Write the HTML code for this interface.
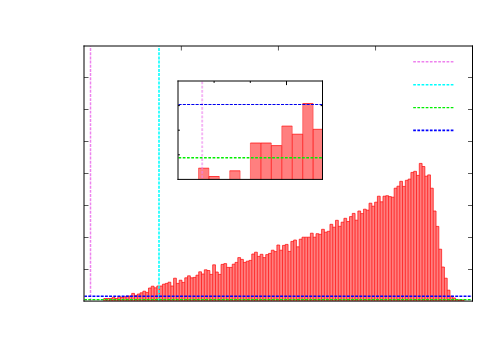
<!DOCTYPE html>
<html><head><meta charset="utf-8"><title>plot</title>
<style>
html,body{margin:0;padding:0;background:#fff;font-family:"Liberation Sans",sans-serif;}
svg{display:block}
</style></head><body>
<svg width="500" height="350" viewBox="0 0 500 350">
<rect x="0" y="0" width="500" height="350" fill="#ffffff"/>
<!-- main bars -->
<g fill="rgba(255,0,0,0.5)" stroke="none">
<rect x="103.79" y="298.50" width="2.792" height="2.50"/>
<rect x="106.59" y="298.50" width="2.792" height="2.50"/>
<rect x="109.38" y="298.50" width="2.792" height="2.50"/>
<rect x="112.17" y="297.30" width="2.792" height="3.70"/>
<rect x="114.96" y="298.50" width="2.792" height="2.50"/>
<rect x="117.75" y="296.60" width="2.792" height="4.40"/>
<rect x="120.55" y="297.40" width="2.792" height="3.60"/>
<rect x="123.34" y="296.80" width="2.792" height="4.20"/>
<rect x="126.13" y="296.00" width="2.792" height="5.00"/>
<rect x="128.92" y="296.00" width="2.792" height="5.00"/>
<rect x="131.71" y="293.40" width="2.792" height="7.60"/>
<rect x="134.51" y="295.40" width="2.792" height="5.60"/>
<rect x="137.30" y="294.00" width="2.792" height="7.00"/>
<rect x="140.09" y="292.80" width="2.792" height="8.20"/>
<rect x="142.88" y="291.20" width="2.792" height="9.80"/>
<rect x="145.67" y="292.40" width="2.792" height="8.60"/>
<rect x="148.47" y="288.00" width="2.792" height="13.00"/>
<rect x="151.26" y="286.20" width="2.792" height="14.80"/>
<rect x="154.05" y="287.80" width="2.792" height="13.20"/>
<rect x="156.84" y="286.00" width="2.792" height="15.00"/>
<rect x="159.63" y="286.00" width="2.792" height="15.00"/>
<rect x="162.43" y="284.20" width="2.792" height="16.80"/>
<rect x="165.22" y="283.40" width="2.792" height="17.60"/>
<rect x="168.01" y="282.20" width="2.792" height="18.80"/>
<rect x="170.80" y="286.00" width="2.792" height="15.00"/>
<rect x="173.59" y="278.20" width="2.792" height="22.80"/>
<rect x="176.39" y="283.40" width="2.792" height="17.60"/>
<rect x="179.18" y="280.20" width="2.792" height="20.80"/>
<rect x="181.97" y="282.40" width="2.792" height="18.60"/>
<rect x="184.76" y="277.80" width="2.792" height="23.20"/>
<rect x="187.55" y="275.80" width="2.792" height="25.20"/>
<rect x="190.35" y="277.80" width="2.792" height="23.20"/>
<rect x="193.14" y="277.40" width="2.792" height="23.60"/>
<rect x="195.93" y="275.20" width="2.792" height="25.80"/>
<rect x="198.72" y="271.80" width="2.792" height="29.20"/>
<rect x="201.51" y="274.00" width="2.792" height="27.00"/>
<rect x="204.31" y="269.80" width="2.792" height="31.20"/>
<rect x="207.10" y="270.50" width="2.792" height="30.50"/>
<rect x="209.89" y="274.40" width="2.792" height="26.60"/>
<rect x="212.68" y="264.80" width="2.792" height="36.20"/>
<rect x="215.47" y="272.00" width="2.792" height="29.00"/>
<rect x="218.27" y="274.40" width="2.792" height="26.60"/>
<rect x="221.06" y="264.40" width="2.792" height="36.60"/>
<rect x="223.85" y="263.60" width="2.792" height="37.40"/>
<rect x="226.64" y="267.40" width="2.792" height="33.60"/>
<rect x="229.43" y="267.40" width="2.792" height="33.60"/>
<rect x="232.23" y="264.20" width="2.792" height="36.80"/>
<rect x="235.02" y="262.40" width="2.792" height="38.60"/>
<rect x="237.81" y="257.60" width="2.792" height="43.40"/>
<rect x="240.60" y="259.40" width="2.792" height="41.60"/>
<rect x="243.39" y="262.40" width="2.792" height="38.60"/>
<rect x="246.19" y="261.20" width="2.792" height="39.80"/>
<rect x="248.98" y="260.40" width="2.792" height="40.60"/>
<rect x="251.77" y="254.00" width="2.792" height="47.00"/>
<rect x="254.56" y="252.20" width="2.792" height="48.80"/>
<rect x="257.35" y="256.40" width="2.792" height="44.60"/>
<rect x="260.15" y="254.30" width="2.792" height="46.70"/>
<rect x="262.94" y="257.60" width="2.792" height="43.40"/>
<rect x="265.73" y="254.60" width="2.792" height="46.40"/>
<rect x="268.52" y="253.40" width="2.792" height="47.60"/>
<rect x="271.31" y="250.20" width="2.792" height="50.80"/>
<rect x="274.11" y="251.60" width="2.792" height="49.40"/>
<rect x="276.90" y="245.00" width="2.792" height="56.00"/>
<rect x="279.69" y="250.20" width="2.792" height="50.80"/>
<rect x="282.48" y="245.40" width="2.792" height="55.60"/>
<rect x="285.27" y="244.40" width="2.792" height="56.60"/>
<rect x="288.07" y="251.40" width="2.792" height="49.60"/>
<rect x="290.86" y="241.40" width="2.792" height="59.60"/>
<rect x="293.65" y="240.00" width="2.792" height="61.00"/>
<rect x="296.44" y="246.80" width="2.792" height="54.20"/>
<rect x="299.23" y="239.20" width="2.792" height="61.80"/>
<rect x="302.03" y="237.20" width="2.792" height="63.80"/>
<rect x="304.82" y="237.20" width="2.792" height="63.80"/>
<rect x="307.61" y="237.20" width="2.792" height="63.80"/>
<rect x="310.40" y="233.20" width="2.792" height="67.80"/>
<rect x="313.19" y="237.20" width="2.792" height="63.80"/>
<rect x="315.99" y="233.70" width="2.792" height="67.30"/>
<rect x="318.78" y="234.30" width="2.792" height="66.70"/>
<rect x="321.57" y="229.30" width="2.792" height="71.70"/>
<rect x="324.36" y="232.20" width="2.792" height="68.80"/>
<rect x="327.15" y="231.30" width="2.792" height="69.70"/>
<rect x="329.95" y="224.30" width="2.792" height="76.70"/>
<rect x="332.74" y="227.20" width="2.792" height="73.80"/>
<rect x="335.53" y="220.30" width="2.792" height="80.70"/>
<rect x="338.32" y="226.30" width="2.792" height="74.70"/>
<rect x="341.11" y="222.20" width="2.792" height="78.80"/>
<rect x="343.91" y="218.30" width="2.792" height="82.70"/>
<rect x="346.70" y="221.50" width="2.792" height="79.50"/>
<rect x="349.49" y="216.60" width="2.792" height="84.40"/>
<rect x="352.28" y="213.40" width="2.792" height="87.60"/>
<rect x="355.07" y="220.20" width="2.792" height="80.80"/>
<rect x="357.87" y="211.00" width="2.792" height="90.00"/>
<rect x="360.66" y="213.60" width="2.792" height="87.40"/>
<rect x="363.45" y="209.20" width="2.792" height="91.80"/>
<rect x="366.24" y="210.20" width="2.792" height="90.80"/>
<rect x="369.03" y="203.20" width="2.792" height="97.80"/>
<rect x="371.83" y="206.20" width="2.792" height="94.80"/>
<rect x="374.62" y="202.20" width="2.792" height="98.80"/>
<rect x="377.41" y="196.20" width="2.792" height="104.80"/>
<rect x="380.20" y="201.80" width="2.792" height="99.20"/>
<rect x="382.99" y="196.20" width="2.792" height="104.80"/>
<rect x="385.79" y="195.70" width="2.792" height="105.30"/>
<rect x="388.58" y="196.60" width="2.792" height="104.40"/>
<rect x="391.37" y="197.20" width="2.792" height="103.80"/>
<rect x="394.16" y="188.20" width="2.792" height="112.80"/>
<rect x="396.95" y="186.20" width="2.792" height="114.80"/>
<rect x="399.75" y="181.30" width="2.792" height="119.70"/>
<rect x="402.54" y="186.40" width="2.792" height="114.60"/>
<rect x="405.33" y="180.30" width="2.792" height="120.70"/>
<rect x="408.12" y="179.10" width="2.792" height="121.90"/>
<rect x="410.91" y="172.40" width="2.792" height="128.60"/>
<rect x="413.71" y="171.30" width="2.792" height="129.70"/>
<rect x="416.50" y="175.40" width="2.792" height="125.60"/>
<rect x="419.29" y="163.40" width="2.792" height="137.60"/>
<rect x="422.08" y="166.50" width="2.792" height="134.50"/>
<rect x="424.87" y="176.20" width="2.792" height="124.80"/>
<rect x="427.67" y="174.90" width="2.792" height="126.10"/>
<rect x="430.46" y="188.20" width="2.792" height="112.80"/>
<rect x="433.25" y="211.00" width="2.792" height="90.00"/>
<rect x="436.04" y="226.40" width="2.792" height="74.60"/>
<rect x="438.83" y="249.20" width="2.792" height="51.80"/>
<rect x="441.63" y="267.00" width="2.792" height="34.00"/>
<rect x="444.42" y="278.20" width="2.792" height="22.80"/>
<rect x="447.21" y="290.20" width="2.792" height="10.80"/>
<rect x="450.00" y="296.20" width="2.792" height="4.80"/>
<rect x="452.79" y="298.00" width="2.792" height="3.00"/>
<rect x="455.59" y="299.50" width="2.792" height="1.50"/>
<rect x="458.38" y="300.00" width="2.792" height="1.00"/>
<rect x="461.17" y="300.00" width="2.792" height="1.00"/>
</g>
<path d="M103.79 298.50H106.59M106.59 298.50H109.38M109.38 298.50H112.17M112.17 297.30H114.96M114.96 298.50H117.75M117.75 296.60H120.55M120.55 297.40H123.34M123.34 296.80H126.13M126.13 296.00H128.92M128.92 296.00H131.71M131.71 293.40H134.51M134.51 295.40H137.30M137.30 294.00H140.09M140.09 292.80H142.88M142.88 291.20H145.67M145.67 292.40H148.47M148.47 288.00H151.26M151.26 286.20H154.05M154.05 287.80H156.84M156.84 286.00H159.63M159.63 286.00H162.43M162.43 284.20H165.22M165.22 283.40H168.01M168.01 282.20H170.80M170.80 286.00H173.59M173.59 278.20H176.39M176.39 283.40H179.18M179.18 280.20H181.97M181.97 282.40H184.76M184.76 277.80H187.55M187.55 275.80H190.35M190.35 277.80H193.14M193.14 277.40H195.93M195.93 275.20H198.72M198.72 271.80H201.51M201.51 274.00H204.31M204.31 269.80H207.10M207.10 270.50H209.89M209.89 274.40H212.68M212.68 264.80H215.47M215.47 272.00H218.27M218.27 274.40H221.06M221.06 264.40H223.85M223.85 263.60H226.64M226.64 267.40H229.43M229.43 267.40H232.23M232.23 264.20H235.02M235.02 262.40H237.81M237.81 257.60H240.60M240.60 259.40H243.39M243.39 262.40H246.19M246.19 261.20H248.98M248.98 260.40H251.77M251.77 254.00H254.56M254.56 252.20H257.35M257.35 256.40H260.15M260.15 254.30H262.94M262.94 257.60H265.73M265.73 254.60H268.52M268.52 253.40H271.31M271.31 250.20H274.11M274.11 251.60H276.90M276.90 245.00H279.69M279.69 250.20H282.48M282.48 245.40H285.27M285.27 244.40H288.07M288.07 251.40H290.86M290.86 241.40H293.65M293.65 240.00H296.44M296.44 246.80H299.23M299.23 239.20H302.03M302.03 237.20H304.82M304.82 237.20H307.61M307.61 237.20H310.40M310.40 233.20H313.19M313.19 237.20H315.99M315.99 233.70H318.78M318.78 234.30H321.57M321.57 229.30H324.36M324.36 232.20H327.15M327.15 231.30H329.95M329.95 224.30H332.74M332.74 227.20H335.53M335.53 220.30H338.32M338.32 226.30H341.11M341.11 222.20H343.91M343.91 218.30H346.70M346.70 221.50H349.49M349.49 216.60H352.28M352.28 213.40H355.07M355.07 220.20H357.87M357.87 211.00H360.66M360.66 213.60H363.45M363.45 209.20H366.24M366.24 210.20H369.03M369.03 203.20H371.83M371.83 206.20H374.62M374.62 202.20H377.41M377.41 196.20H380.20M380.20 201.80H382.99M382.99 196.20H385.79M385.79 195.70H388.58M388.58 196.60H391.37M391.37 197.20H394.16M394.16 188.20H396.95M396.95 186.20H399.75M399.75 181.30H402.54M402.54 186.40H405.33M405.33 180.30H408.12M408.12 179.10H410.91M410.91 172.40H413.71M413.71 171.30H416.50M416.50 175.40H419.29M419.29 163.40H422.08M422.08 166.50H424.87M424.87 176.20H427.67M427.67 174.90H430.46M430.46 188.20H433.25M433.25 211.00H436.04M436.04 226.40H438.83M438.83 249.20H441.63M441.63 267.00H444.42M444.42 278.20H447.21M447.21 290.20H450.00M450.00 296.20H452.79M452.79 298.00H455.59M455.59 299.50H458.38M458.38 300.00H461.17M461.17 300.00H463.96M103.79 301.00V298.50M106.59 301.00V298.50M109.38 301.00V298.50M112.17 301.00V297.30M114.96 301.00V297.30M117.75 301.00V296.60M120.55 301.00V296.60M123.34 301.00V296.80M126.13 301.00V296.00M128.92 301.00V296.00M131.71 301.00V293.40M134.51 301.00V293.40M137.30 301.00V294.00M140.09 301.00V292.80M142.88 301.00V291.20M145.67 301.00V291.20M148.47 301.00V288.00M151.26 301.00V286.20M154.05 301.00V286.20M156.84 301.00V286.00M159.63 301.00V286.00M162.43 301.00V284.20M165.22 301.00V283.40M168.01 301.00V282.20M170.80 301.00V282.20M173.59 301.00V278.20M176.39 301.00V278.20M179.18 301.00V280.20M181.97 301.00V280.20M184.76 301.00V277.80M187.55 301.00V275.80M190.35 301.00V275.80M193.14 301.00V277.40M195.93 301.00V275.20M198.72 301.00V271.80M201.51 301.00V271.80M204.31 301.00V269.80M207.10 301.00V269.80M209.89 301.00V270.50M212.68 301.00V264.80M215.47 301.00V264.80M218.27 301.00V272.00M221.06 301.00V264.40M223.85 301.00V263.60M226.64 301.00V263.60M229.43 301.00V267.40M232.23 301.00V264.20M235.02 301.00V262.40M237.81 301.00V257.60M240.60 301.00V257.60M243.39 301.00V259.40M246.19 301.00V261.20M248.98 301.00V260.40M251.77 301.00V254.00M254.56 301.00V252.20M257.35 301.00V252.20M260.15 301.00V254.30M262.94 301.00V254.30M265.73 301.00V254.60M268.52 301.00V253.40M271.31 301.00V250.20M274.11 301.00V250.20M276.90 301.00V245.00M279.69 301.00V245.00M282.48 301.00V245.40M285.27 301.00V244.40M288.07 301.00V244.40M290.86 301.00V241.40M293.65 301.00V240.00M296.44 301.00V240.00M299.23 301.00V239.20M302.03 301.00V237.20M304.82 301.00V237.20M307.61 301.00V237.20M310.40 301.00V233.20M313.19 301.00V233.20M315.99 301.00V233.70M318.78 301.00V233.70M321.57 301.00V229.30M324.36 301.00V229.30M327.15 301.00V231.30M329.95 301.00V224.30M332.74 301.00V224.30M335.53 301.00V220.30M338.32 301.00V220.30M341.11 301.00V222.20M343.91 301.00V218.30M346.70 301.00V218.30M349.49 301.00V216.60M352.28 301.00V213.40M355.07 301.00V213.40M357.87 301.00V211.00M360.66 301.00V211.00M363.45 301.00V209.20M366.24 301.00V209.20M369.03 301.00V203.20M371.83 301.00V203.20M374.62 301.00V202.20M377.41 301.00V196.20M380.20 301.00V196.20M382.99 301.00V196.20M385.79 301.00V195.70M388.58 301.00V195.70M391.37 301.00V196.60M394.16 301.00V188.20M396.95 301.00V186.20M399.75 301.00V181.30M402.54 301.00V181.30M405.33 301.00V180.30M408.12 301.00V179.10M410.91 301.00V172.40M413.71 301.00V171.30M416.50 301.00V171.30M419.29 301.00V163.40M422.08 301.00V163.40M424.87 301.00V166.50M427.67 301.00V174.90M430.46 301.00V174.90M433.25 301.00V188.20M436.04 301.00V211.00M438.83 301.00V226.40M441.63 301.00V249.20M444.42 301.00V267.00M447.21 301.00V278.20M450.00 301.00V290.20M452.79 301.00V296.20M455.59 301.00V298.00M458.38 301.00V299.50M461.17 301.00V300.00M463.96 301.00V300.00" fill="none" stroke="#ff0000" stroke-width="0.85" stroke-opacity="0.8"/>
<!-- dashed lines -->
<g fill="none" stroke-dasharray="2.7 1.56">
<line x1="90.5" y1="46.5" x2="90.5" y2="300.5" stroke="#ee82ee" stroke-width="1.5" stroke-dasharray="2.95 1.22" stroke-dashoffset="2.57"/>
<line x1="159" y1="46.5" x2="159" y2="300.5" stroke="#00ffff" stroke-width="1.55" stroke-dasharray="2.95 1.22" stroke-dashoffset="2.57"/>
<line x1="84.5" y1="299.6" x2="472" y2="299.6" stroke="#00ee00" stroke-width="1.4" stroke-dasharray="2.92 1.25" stroke-dashoffset="0.4"/>
<line x1="84.5" y1="296.2" x2="472" y2="296.2" stroke="#0000ff" stroke-width="1.5" stroke-dasharray="2.92 1.25" stroke-dashoffset="0.4"/>
</g>
<!-- main frame -->
<g stroke="#000" stroke-width="1" fill="none">
<line x1="84" y1="45.5" x2="84" y2="301.5"/>
<line x1="83.5" y1="46" x2="473" y2="46"/>
<line x1="472.5" y1="45.5" x2="472.5" y2="301.5"/>
<line x1="83.5" y1="301.1" x2="473" y2="301.1"/>
</g>
<g stroke="#000" stroke-width="0.65" fill="none">
<line x1="84" y1="77.5" x2="88.5" y2="77.5"/>
<line x1="472.5" y1="77.5" x2="468" y2="77.5"/>
<line x1="84" y1="109.5" x2="88.5" y2="109.5"/>
<line x1="472.5" y1="109.5" x2="468" y2="109.5"/>
<line x1="84" y1="141.5" x2="88.5" y2="141.5"/>
<line x1="472.5" y1="141.5" x2="468" y2="141.5"/>
<line x1="84" y1="173.5" x2="88.5" y2="173.5"/>
<line x1="472.5" y1="173.5" x2="468" y2="173.5"/>
<line x1="84" y1="205.5" x2="88.5" y2="205.5"/>
<line x1="472.5" y1="205.5" x2="468" y2="205.5"/>
<line x1="84" y1="237.5" x2="88.5" y2="237.5"/>
<line x1="472.5" y1="237.5" x2="468" y2="237.5"/>
<line x1="84" y1="269.5" x2="88.5" y2="269.5"/>
<line x1="472.5" y1="269.5" x2="468" y2="269.5"/>
<line x1="181.35" y1="46" x2="181.35" y2="50.5"/>
<line x1="278.45" y1="46" x2="278.45" y2="50.5"/>
<line x1="375.55" y1="46" x2="375.55" y2="50.5"/>
</g>
<!-- legend -->
<g fill="none" stroke-width="1.4" stroke-dasharray="2.7 1.47">
<line x1="413.2" y1="61.7" x2="453.6" y2="61.7" stroke="#ee82ee"/>
<line x1="413.2" y1="84.7" x2="453.6" y2="84.7" stroke="#00ffff"/>
<line x1="413.2" y1="107.6" x2="453.6" y2="107.6" stroke="#00ee00" stroke-width="1.25"/>
<line x1="413.2" y1="130.4" x2="453.6" y2="130.4" stroke="#0000ff" stroke-width="1.6"/>
</g>
<!-- inset -->
<rect x="178" y="81" width="144.5" height="98.4" fill="#ffffff"/>
<g fill="rgba(255,0,0,0.5)" stroke="none">
<rect x="198.50" y="168.20" width="10.420" height="11.20"/>
<rect x="208.90" y="176.50" width="10.420" height="2.90"/>
<rect x="229.70" y="170.80" width="10.420" height="8.60"/>
<rect x="250.40" y="143.00" width="10.420" height="36.40"/>
<rect x="260.90" y="143.00" width="10.420" height="36.40"/>
<rect x="271.30" y="145.60" width="10.420" height="33.80"/>
<rect x="281.80" y="126.10" width="10.420" height="53.30"/>
<rect x="292.30" y="134.20" width="10.420" height="45.20"/>
<rect x="302.70" y="103.50" width="10.420" height="75.90"/>
<rect x="313.10" y="129.30" width="9.400" height="50.10"/>
</g>
<path d="M198.50 168.20H208.92M208.90 176.50H219.32M229.70 170.80H240.12M250.40 143.00H260.82M260.90 143.00H271.32M271.30 145.60H281.72M281.80 126.10H292.22M292.30 134.20H302.72M302.70 103.50H313.12M313.10 129.30H322.50" fill="none" stroke="#ff0000" stroke-width="1" stroke-opacity="0.7"/>
<g fill="none" stroke="#ff0000" stroke-width="1" stroke-opacity="0.4">
<path d="M198.50 179.4V168.20M208.92 179.4V168.20"/>
<path d="M208.90 179.4V176.50M219.32 179.4V176.50"/>
<path d="M229.70 179.4V170.80M240.12 179.4V170.80"/>
<path d="M250.40 179.4V143.00M260.82 179.4V143.00"/>
<path d="M260.90 179.4V143.00M271.32 179.4V143.00"/>
<path d="M271.30 179.4V145.60M281.72 179.4V145.60"/>
<path d="M281.80 179.4V126.10M292.22 179.4V126.10"/>
<path d="M292.30 179.4V134.20M302.72 179.4V134.20"/>
<path d="M302.70 179.4V103.50M313.12 179.4V103.50"/>
<path d="M313.10 179.4V129.30M322.50 179.4V129.30"/>
</g>
<g fill="none" stroke-dasharray="2.7 1.56">
<line x1="202.2" y1="81.5" x2="202.2" y2="179" stroke="#ee82ee" stroke-width="1.9" stroke-opacity="0.6"/>
<line x1="178.5" y1="157.8" x2="322" y2="157.8" stroke="#00ee00" stroke-width="1.4"/>
<line x1="178.5" y1="104.5" x2="322" y2="104.5" stroke="#0000ee" stroke-width="1.2" stroke-dasharray="3.1 1.17"/>
</g>
<g stroke="#000" stroke-width="1" fill="none">
<line x1="178" y1="80.5" x2="178" y2="179.9"/>
<line x1="177.5" y1="81" x2="323" y2="81"/>
<line x1="322.5" y1="80.5" x2="322.5" y2="179.9"/>
<line x1="177.5" y1="179.4" x2="323" y2="179.4"/>
<line x1="214.1" y1="81" x2="214.1" y2="82.9"/>
<line x1="250.3" y1="81" x2="250.3" y2="82.9"/>
<line x1="286.5" y1="81" x2="286.5" y2="85.1"/>
<line x1="178" y1="105.6" x2="179.9" y2="105.6"/>
<line x1="178" y1="130.2" x2="179.9" y2="130.2"/>
<line x1="178" y1="154.8" x2="179.9" y2="154.8"/>
<line x1="322.5" y1="105.6" x2="320.6" y2="105.6"/>
</g>
</svg>
</body></html>
